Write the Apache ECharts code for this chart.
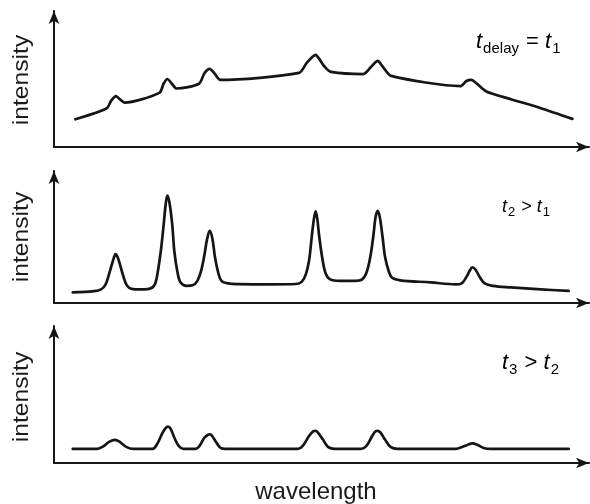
<!DOCTYPE html>
<html>
<head>
<meta charset="utf-8">
<script src="https://cdn.jsdelivr.net/npm/echarts@6/dist/echarts.min.js"></script>
<style>
html,body{margin:0;padding:0;background:#fff;}
#chart{width:590px;height:504px;}
</style>
</head>
<body>
<div id="chart"></div>
<script>
// ---- data (arbitrary units: wavelength 0-100, intensity 0-100 per panel) ----
const wl1 = [4.0, 9.8, 10.7, 11.6, 12.4, 13.2, 19.7, 20.5, 21.2, 22.0, 22.9, 27.1, 28.1, 29.1, 30.0, 31.1,
  45.8, 47.3, 48.9, 49.5, 50.7, 51.8, 57.8, 59.5, 60.5, 61.4, 63.0, 76.0, 77.1, 78.0, 79.0, 80.8, 85.7, 91.0, 96.9];
const int1 = [20.4, 28.3, 34.1, 37.4, 34.8, 32.6, 39.8, 46.7, 50.0, 46.7, 43.0, 46.5, 54.1, 57.4, 54.1, 49.3,
  54.5, 62.2, 67.8, 65.2, 58.5, 55.2, 53.6, 60.0, 63.3, 59.3, 52.3, 44.8, 48.5, 49.3, 46.7, 40.8, 34.8, 28.5, 20.7];

const wl2 = [3.5, 7.5, 8.8, 9.6, 10.2, 10.8, 11.2, 11.5, 11.9, 12.4, 13.0, 13.6, 14.5, 16.0, 17.8,
  18.8, 19.4, 20.0, 20.5, 20.9, 21.2, 21.6, 22.1, 22.5, 23.1, 23.7, 24.8, 25.9,
  26.8, 27.5, 28.1, 28.6, 29.1, 29.6, 30.1, 30.7, 31.3, 32.5, 34.7, 40.3, 45.2,
  46.3, 47.1, 47.7, 48.2, 48.6, 48.9, 49.2, 49.6, 50.2, 50.8, 51.6, 53.5, 56.3,
  57.6, 58.4, 59.1, 59.7, 60.1, 60.5, 60.9, 61.4, 61.9, 62.6, 63.2, 64.7, 70.4, 75.1,
  76.2, 77.0, 77.7, 78.2, 78.8, 79.6, 80.5, 82.0, 85.4, 91.0, 96.2];
const int2 = [8.0, 9.0, 10.3, 13.7, 20.6, 29.0, 34.4, 37.0, 34.7, 28.2, 19.8, 13.4, 10.7, 10.3, 10.7,
  13.7, 23.7, 40.5, 59.5, 75.6, 81.3, 75.6, 59.5, 38.9, 22.9, 15.3, 13.0, 13.4,
  16.8, 24.4, 35.9, 48.1, 54.6, 48.9, 34.4, 22.9, 16.8, 14.9, 14.3, 14.1, 14.4,
  16.0, 22.1, 32.8, 51.1, 64.1, 69.5, 64.1, 49.6, 32.8, 22.1, 17.9, 16.8, 16.8,
  17.9, 22.9, 34.4, 51.1, 64.9, 69.8, 64.9, 50.4, 34.4, 23.7, 19.1, 17.2, 15.6, 14.1,
  14.9, 19.1, 24.4, 27.1, 25.2, 19.5, 14.9, 13.0, 11.8, 10.3, 9.2];

const wl3 = [3.5, 8.1, 9.2, 10.3, 11.4, 12.4, 13.5, 14.8, 18.4, 19.3, 20.3, 20.9, 21.3, 21.8, 22.5, 23.3, 24.2,
  26.5, 27.2, 28.1, 28.8, 29.2, 29.6, 30.4, 31.3, 32.8, 45.6, 46.5, 47.7, 48.5, 48.9, 49.3, 50.3, 51.2, 52.5,
  57.4, 58.4, 59.5, 60.1, 60.5, 61.0, 61.9, 62.9, 64.2, 75.1, 76.4, 77.3, 78.2, 79.2, 80.3, 81.6, 96.2];
const int3 = [10.3, 10.3, 12.1, 15.4, 16.9, 15.1, 11.8, 10.3, 10.3, 14.0, 22.1, 25.7, 26.5, 25.0, 18.4, 12.5, 10.3,
  10.3, 12.5, 18.4, 20.6, 21.0, 19.5, 14.7, 10.7, 10.3, 10.3, 12.5, 19.9, 23.2, 23.5, 22.4, 16.9, 11.8, 10.3,
  10.3, 12.5, 19.9, 23.2, 23.5, 22.4, 16.9, 11.8, 10.3, 10.3, 11.8, 13.2, 14.3, 13.2, 11.0, 10.3, 10.3];

const yTitle = 'intensity';
const xTitle = 'wavelength';

// ---- layout ----
const panels = [
  {top: 11, height: 136, wl: wl1, it: int1, smooth: 0.25},
  {top: 171, height: 132, wl: wl2, it: int2, smooth: 0.35},
  {top: 326, height: 137, wl: wl3, it: int3, smooth: 0.35}
];
const ink = '#151515';

const grid = [], xAxis = [], yAxis = [], series = [];
panels.forEach((p, i) => {
  grid.push({left: 54, right: 1, top: p.top, height: p.height});
  const axisLine = {show: true, symbol: ['none', 'arrow'], symbolSize: [8, 13],
    lineStyle: {color: ink, width: 2}};
  xAxis.push({type: 'value', gridIndex: i, min: 0, max: 100, axisLine: axisLine,
    axisTick: {show: false}, axisLabel: {show: false}, splitLine: {show: false}});
  yAxis.push({type: 'value', gridIndex: i, min: 0, max: 100, axisLine: axisLine,
    axisTick: {show: false}, axisLabel: {show: false}, splitLine: {show: false}});
  series.push({type: 'line', xAxisIndex: i, yAxisIndex: i, showSymbol: false, smooth: p.smooth,
    data: p.wl.map((x, k) => [x, p.it[k]]),
    lineStyle: {color: ink, width: 2.7, cap: 'round', join: 'round'}, silent: true, animation: false});
});

const font = '"Liberation Sans", Arial, sans-serif';
function yLabel(cy) {
  return {type: 'text', x: 22, y: cy, rotation: Math.PI / 2, scaleX: 1.12,
    style: {text: yTitle, font: '22px ' + font, fill: '#1a1a1a', align: 'center', verticalAlign: 'middle'}};
}
function rich(main, sub, pad) {
  return {
    t: {fontSize: main, fontStyle: 'italic', fontFamily: font, lineHeight: main, verticalAlign: 'top', color: '#1a1a1a'},
    s: {fontSize: sub, fontFamily: font, lineHeight: sub, verticalAlign: 'top', padding: [pad, 1, 0, 1], color: '#1a1a1a'},
    o: {fontSize: main, fontFamily: font, lineHeight: main, verticalAlign: 'top', color: '#1a1a1a'}
  };
}
const graphic = [
  yLabel(80), yLabel(237), yLabel(397),
  {type: 'text', x: 316, y: 492.5,
    style: {text: xTitle, font: '24px ' + font, fill: '#1a1a1a', align: 'center', verticalAlign: 'middle'}},
  {type: 'text', x: 476, y: 31,
    style: {text: '{t|t}{s|delay}{o| = }{t|t}{s|1}', rich: rich(22, 15, 10), align: 'left', verticalAlign: 'top'}},
  {type: 'text', x: 502, y: 198,
    style: {text: '{t|t}{s|2}{o| > }{t|t}{s|1}', rich: rich(18, 13, 8), align: 'left', verticalAlign: 'top'}},
  {type: 'text', x: 502, y: 352,
    style: {text: '{t|t}{s|3}{o| > }{t|t}{s|2}', rich: rich(22, 15, 10), align: 'left', verticalAlign: 'top'}}
];

const chart = echarts.init(document.getElementById('chart'), null, {renderer: 'canvas'});
chart.setOption({animation: false, backgroundColor: '#fff', grid, xAxis, yAxis, series, graphic});
</script>
</body>
</html>
